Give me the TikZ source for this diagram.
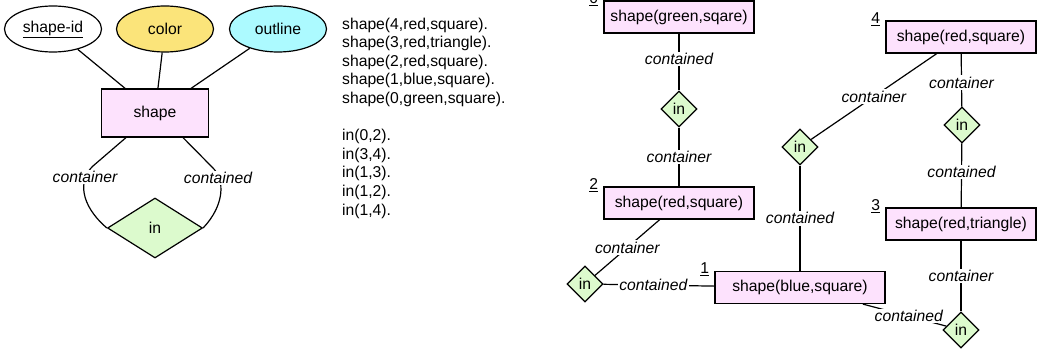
\documentclass[tikz,border=0pt]{standalone}
\usepackage{fontspec}
\setmainfont{Liberation Sans}
\usetikzlibrary{shapes.geometric}
\definecolor{entpink}{RGB}{253,226,253}
\definecolor{relgreen}{RGB}{220,250,205}
\definecolor{attryellow}{RGB}{251,228,122}
\definecolor{attrcyan}{RGB}{172,250,255}
\begin{document}
\begin{tikzpicture}[x=1pt, y=-1pt,
        every node/.style={font=\fontsize{15.7}{18.6}\selectfont},
        attr/.style={ellipse, draw, line width=1.2pt, minimum width=97pt, minimum height=46pt, inner sep=0pt},
        entity/.style={rectangle, draw, fill=entpink, line width=1.2pt, minimum width=150pt, minimum height=32pt, inner sep=0pt},
        rel/.style={diamond, draw, fill=relgreen, line width=1.2pt, minimum width=36pt, minimum height=36pt, inner sep=0pt},
        role/.style={fill=white, inner sep=1.5pt, font=\fontsize{15.7}{18.6}\selectfont\itshape},
        idx/.style={anchor=base east, inner sep=0pt},
        link/.style={line width=1.2pt}
    ]
        \useasboundingbox (0,0) rectangle (1043,350);

        % ER schema
        \node[attr] (shapeid) at (53,29) {\underline{shape-id}};
        \node[attr, fill=attryellow] (color) at (165,29) {color};
        \node[attr, fill=attrcyan] (outline) at (278,29) {outline};
        \node[entity, minimum width=107pt, minimum height=48pt] (shapeent) at (155,113) {shape};
        \node[rel, minimum width=95pt, minimum height=60pt] (inrel) at (155,228) {in};

        \draw[link] (shapeid) -- (shapeent);
        \draw[link] (color) -- (shapeent);
        \draw[link] (outline) -- (shapeent);

        \coordinate (kc1) at (93,166);
        \coordinate (kc2) at (212,167);
        \draw[link] ([xshift=-29pt]shapeent.south) -- (kc1) .. controls (78,180) and (80,205) .. (inrel.west);
        \draw[link] ([xshift=28pt]shapeent.south) -- (kc2) .. controls (226,180) and (224,206) .. (inrel.east);
        \node[role] (rc) at (85,177) {container};
        \node[role] (rd) at (218,178) {contained};

        % Facts
        \node[anchor=north west, align=left, inner sep=0pt] (facts) at (342,17.5) {shape(4,red,square).\\shape(3,red,triangle).\\shape(2,red,square).\\shape(1,blue,square).\\shape(0,green,square).\\[18.6pt]in(0,2).\\in(3,4).\\in(1,3).\\in(1,2).\\in(1,4).};

        % Instances
        \node[entity] (b0) at (679,17) {shape(green,sqare)};
        \node[entity] (b2) at (679,203) {shape(red,square)};
        \node[entity, minimum width=170pt] (b1) at (800,287.5) {shape(blue,square)};
        \node[entity] (b4) at (961,37) {shape(red,square)};
        \node[entity] (b3) at (961,224) {shape(red,triangle)};

        \node[idx] (n0) at ([xshift=-5pt,yshift=-3pt]b0.north west) {\underline{0}};
        \node[idx] (n2) at ([xshift=-5pt,yshift=-3pt]b2.north west) {\underline{2}};
        \node[idx] (n1) at ([xshift=-5pt,yshift=-3pt]b1.north west) {\underline{1}};
        \node[idx] (n4) at ([xshift=-5pt,yshift=-3pt]b4.north west) {\underline{4}};
        \node[idx] (n3) at ([xshift=-5pt,yshift=-3pt]b3.north west) {\underline{3}};

        \node[rel] (r02) at (679,109) {in};
        \node[rel] (r12) at (585,284) {in};
        \node[rel] (r14) at (800,147) {in};
        \node[rel] (r34) at (962,125) {in};
        \node[rel] (r13) at (961,330) {in};

        % Links
        \draw[link] (b0) -- node[role, pos=0.45] {contained} (r02);
        \draw[link] (r02) -- node[role] {container} (b2);
        \draw[link] (b2) -- node[role] {container} (r12);
        \draw[link] (r12) -- node[role, pos=0.45] {contained} (b1);
        \draw[link] (b1) -- node[role] {contained} (r14);
        \draw[link] (r14) -- node[role] {container} (b4);
        \draw[link] (b4) -- node[role, pos=0.55] {container} (r34);
        \draw[link] (r34) -- node[role, pos=0.45] {contained} (b3);
        \draw[link] (b3) -- node[role] {container} (r13);
        \draw[link] (b1) -- node[role, pos=0.55] {contained} (r13);
    \end{tikzpicture}
\end{document}
